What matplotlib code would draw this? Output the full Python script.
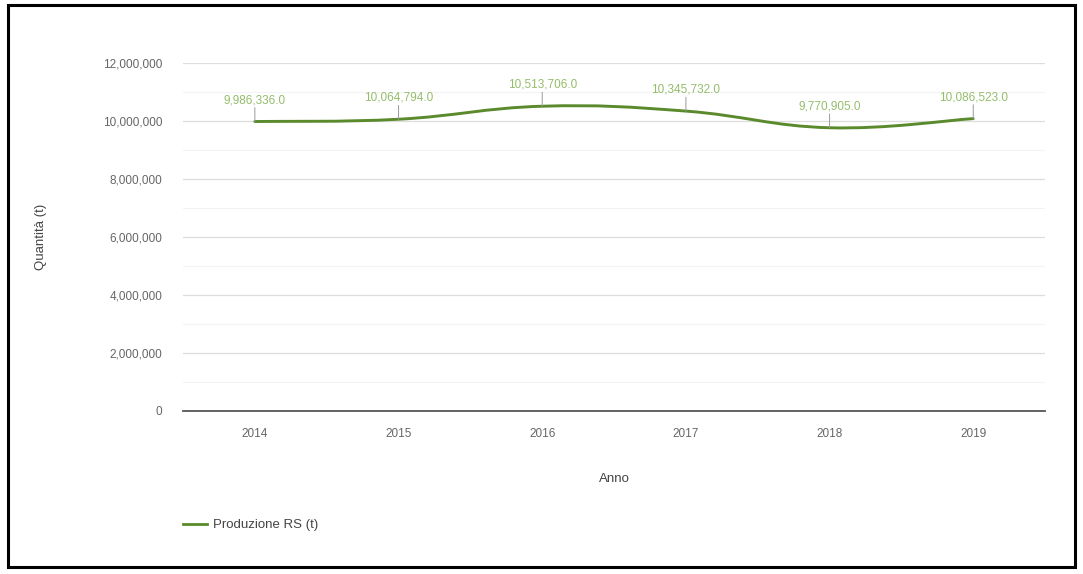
import matplotlib.pyplot as plt
from matplotlib.path import Path
from matplotlib.patches import PathPatch, Rectangle
from matplotlib.ticker import FuncFormatter, MultipleLocator
from matplotlib.lines import Line2D

plt.rcParams['font.family'] = ['Liberation Sans', 'DejaVu Sans']

# data
anni = ['2014', '2015', '2016', '2017', '2018', '2019']
produzione = [9986336.0, 10064794.0, 10513706.0, 10345732.0, 9770905.0, 10086523.0]

line_color = '#5a8a2c'
label_color = '#94bd6a'
text_color = '#666666'

fig = plt.figure(figsize=(10.83, 5.74), dpi=100)
fig.patch.set_facecolor('white')
fig.patches.append(Rectangle((0.007, 0.012), 0.986, 0.979, transform=fig.transFigure,
                             fill=False, edgecolor='black', linewidth=2.2))

ax = fig.add_axes([0.169, 0.284, 0.796, 0.606])
x = list(range(len(anni)))

# smooth curve (cardinal spline through the points, drawn as bezier path)
verts = [(x[0], produzione[0])]
codes = [Path.MOVETO]
t = 0.2
for i in range(len(x) - 1):
    x0, y0 = x[i], produzione[i]
    x1, y1 = x[i + 1], produzione[i + 1]
    xp, yp = (x[i - 1], produzione[i - 1]) if i > 0 else (x0, y0)
    xn, yn = (x[i + 2], produzione[i + 2]) if i + 2 < len(x) else (x1, y1)
    c1 = (x0 + (x1 - xp) * t, y0 + (y1 - yp) * t)
    c2 = (x1 - (xn - x0) * t, y1 - (yn - y0) * t)
    verts += [c1, c2, (x1, y1)]
    codes += [Path.CURVE4, Path.CURVE4, Path.CURVE4]
ax.add_patch(PathPatch(Path(verts, codes), facecolor='none', edgecolor=line_color,
                       linewidth=2.1, capstyle='round', zorder=3))

# value labels with leader lines
for xi, v in zip(x, produzione):
    ax.annotate('', xy=(xi, v), xytext=(0, 10), textcoords='offset points',
                arrowprops=dict(arrowstyle='-', color='#9a9a9a', lw=0.7, shrinkA=0, shrinkB=0))
    ax.annotate(f'{v:,.1f}', xy=(xi, v), xytext=(0, 11), textcoords='offset points',
                ha='center', va='bottom', fontsize=8.5, color=label_color)

ax.set_xlim(-0.5, len(anni) - 0.5)
ax.set_ylim(0, 12000000)
ax.set_xticks(x)
ax.set_xticklabels(anni)
ax.yaxis.set_major_locator(MultipleLocator(2000000))
ax.yaxis.set_minor_locator(MultipleLocator(1000000))
ax.yaxis.set_major_formatter(FuncFormatter(lambda v, p: f'{v:,.0f}'))

ax.grid(axis='y', which='major', color='#dddddd', linewidth=0.9)
ax.grid(axis='y', which='minor', color='#f3f3f3', linewidth=0.8)
ax.set_axisbelow(True)
for s in ['top', 'right', 'left']:
    ax.spines[s].set_visible(False)
ax.spines['bottom'].set_color('#555555')
ax.spines['bottom'].set_linewidth(1.3)
ax.tick_params(axis='both', which='both', length=0, labelsize=8.5, labelcolor=text_color)
ax.tick_params(axis='y', pad=15)
ax.tick_params(axis='x', pad=12)

ax.set_xlabel('Anno', fontsize=9.5, color='#444444', labelpad=24)
ax.set_ylabel('Quantità (t)', fontsize=9.5, color='#444444', labelpad=40)

handle = Line2D([], [], color=line_color, linewidth=2)
fig.legend([handle], ['Produzione RS (t)'], loc='center left', bbox_to_anchor=(0.158, 0.085),
           frameon=False, fontsize=9.5, handlelength=1.8, handletextpad=0.5, labelcolor='#444444')

fig.savefig('out.png', dpi=100)
